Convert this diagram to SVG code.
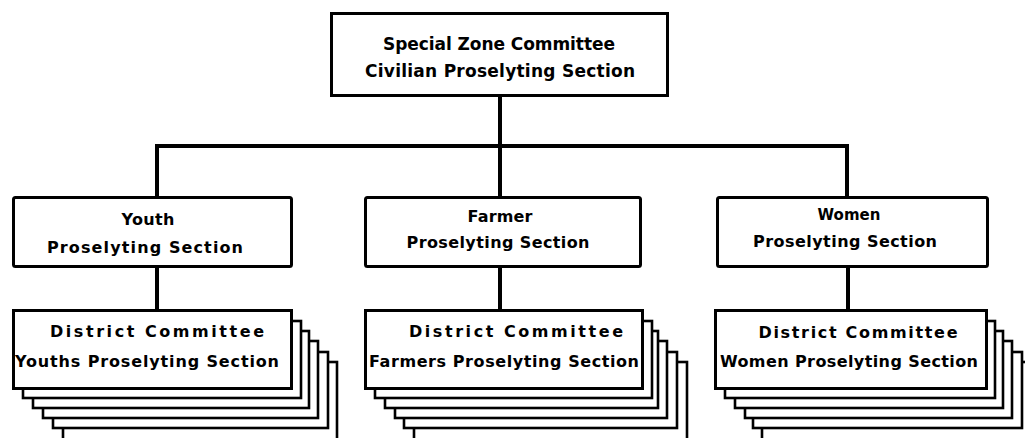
<svg xmlns="http://www.w3.org/2000/svg" width="1025" height="438" viewBox="0 0 1025 438">
<style>
.box{fill:#fff;stroke:#000;stroke-width:3}
.stk{fill:#fff;stroke:#000;stroke-width:2.6}
.ln{fill:none;stroke:#000;stroke-width:4;stroke-linejoin:miter}
text{font-family:"DejaVu Sans","Liberation Sans",sans-serif;font-weight:bold;fill:#000;text-anchor:middle}
.t1{font-size:17px}
.t2{font-size:16px}
.t3{font-size:15px}
</style>
<rect width="1025" height="438" fill="#fff"/>
<g id="connectors">
<path class="ln" d="M500,96 V146"/>
<path class="ln" d="M157,198 V146 H847 V198"/>
<path class="ln" d="M500,146 V198"/>
<path class="ln" d="M157,267 V311"/>
<path class="ln" d="M500,267 V311"/>
<path class="ln" d="M848,267 V311"/>
</g>
<g id="top">
<rect class="box" x="331.5" y="13.5" width="336" height="82"/>
<text class="t1" x="499" y="50" textLength="232" lengthAdjust="spacing">Special Zone Committee</text>
<text class="t1" x="500" y="77" textLength="270" lengthAdjust="spacing">Civilian Proselyting Section</text>
</g>
<g id="youth">
<rect class="box" x="13.5" y="197.5" width="278" height="69" rx="2"/>
<text class="t2" x="148" y="225" textLength="53" lengthAdjust="spacing">Youth</text>
<text class="t2" x="145" y="253" textLength="196" lengthAdjust="spacing">Proselyting Section</text>
</g>
<g id="farmer">
<rect class="box" x="365.5" y="197.5" width="275" height="69" rx="2"/>
<text class="t2" x="500" y="222" textLength="65" lengthAdjust="spacing">Farmer</text>
<text class="t2" x="498" y="248" textLength="183" lengthAdjust="spacing">Proselyting Section</text>
</g>
<g id="women">
<rect class="box" x="717.5" y="197.5" width="270" height="69" rx="2"/>
<text class="t3" x="849" y="220">Women</text>
<text class="t2" x="845" y="247" textLength="184" lengthAdjust="spacing">Proselyting Section</text>
</g>
<g id="district-youth">
<rect class="stk" x="63" y="362" width="274" height="90"/>
<rect class="stk" x="53" y="352" width="275" height="76"/>
<rect class="stk" x="43" y="341" width="275" height="77"/>
<rect class="stk" x="33" y="331" width="276" height="77"/>
<rect class="stk" x="23" y="321" width="278" height="77"/>
<rect class="box" x="13.5" y="310.5" width="278" height="78"/>
<text class="t2" x="157" y="337" textLength="214" lengthAdjust="spacing">District Committee</text>
<text class="t2" x="147" y="367" textLength="264" lengthAdjust="spacing">Youths Proselyting Section</text>
</g>
<g id="district-farmer">
<rect class="stk" x="414" y="362" width="273" height="90"/>
<rect class="stk" x="404" y="352" width="273" height="76"/>
<rect class="stk" x="395" y="341" width="272" height="77"/>
<rect class="stk" x="385" y="331" width="273" height="77"/>
<rect class="stk" x="375" y="321" width="277" height="77"/>
<rect class="box" x="365.5" y="310.5" width="277" height="78"/>
<text class="t2" x="516" y="337" textLength="214" lengthAdjust="spacing">District Committee</text>
<text class="t2" x="504" y="367" textLength="270" lengthAdjust="spacing">Farmers Proselyting Section</text>
</g>
<g id="district-women">
<rect class="stk" x="762" y="362" width="270" height="90"/>
<rect class="stk" x="753" y="352" width="269" height="76"/>
<rect class="stk" x="745" y="341" width="267" height="77"/>
<rect class="stk" x="735" y="331" width="268" height="77"/>
<rect class="stk" x="725" y="321" width="270" height="77"/>
<rect class="box" x="715.5" y="310.5" width="271" height="78"/>
<text class="t2" x="858" y="338" textLength="199" lengthAdjust="spacing">District Committee</text>
<text class="t2" x="849" y="367" textLength="258" lengthAdjust="spacing">Women Proselyting Section</text>
</g>
</svg>
